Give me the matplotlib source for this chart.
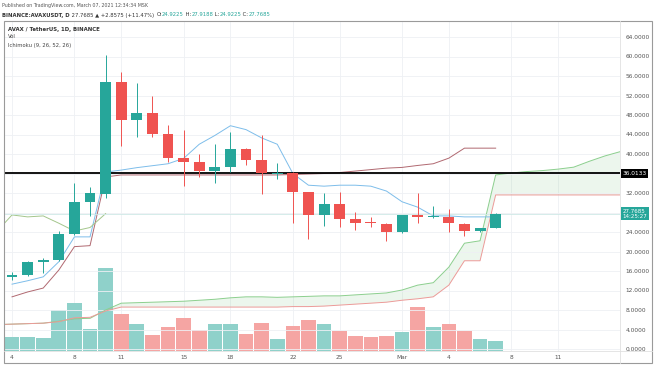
import matplotlib
matplotlib.use('Agg')
import matplotlib.pyplot as plt
import numpy as np
from matplotlib.patches import Rectangle

# daily candles, Feb 4 .. Mar 7 2021 (index 0 = Feb 4)
opens = [14.8, 15.2, 17.8, 18.3, 23.6, 30.2, 31.8, 54.8, 47.0, 48.4, 44.1, 39.2,
         38.4, 36.5, 37.3, 41.0, 38.8, 35.8, 36.1, 32.2, 27.5, 29.7, 26.7, 26.1,
         25.6, 24.0, 27.5, 27.1, 27.1, 25.6, 24.2, 24.9225]
highs = [15.8, 18.0, 18.6, 24.2, 34.0, 33.2, 60.3, 56.8, 54.6, 51.9, 45.9, 44.9,
         40.0, 42.0, 44.5, 41.2, 43.9, 38.2, 36.3, 32.2, 32.0, 32.2, 28.1, 27.1,
         25.8, 27.5, 32.0, 29.3, 28.7, 25.8, 24.9, 27.9188]
lows = [14.2, 15.0, 15.6, 18.0, 23.4, 27.3, 31.0, 41.6, 43.5, 43.5, 38.4, 33.4,
        35.3, 34.1, 36.3, 37.7, 31.8, 34.9, 25.8, 22.6, 25.2, 25.0, 24.4, 25.0,
        22.2, 23.8, 25.9, 26.9, 24.0, 23.2, 24.0, 24.9225]
closes = [15.2, 17.8, 18.3, 23.6, 30.2, 32.0, 54.8, 47.0, 48.4, 44.1, 39.2, 38.4,
          36.5, 37.3, 41.0, 38.8, 36.1, 36.1, 32.2, 27.5, 29.7, 26.7, 25.9, 25.8,
          24.0, 27.5, 27.1, 27.3, 25.8, 24.2, 24.9225, 27.7685]
volumes = [13.7, 13.7, 12.7, 41.0, 48.3, 22.3, 83.0, 36.7, 27.0, 15.7, 23.7, 33.3,
           21.0, 26.7, 26.7, 17.3, 28.3, 12.0, 25.3, 30.7, 27.0, 20.3, 15.3, 14.3,
           15.3, 19.0, 43.7, 23.7, 26.7, 20.0, 12.3, 9.7]

# ichimoku lines
tenkan = [13.3, 14.0, 14.8, 17.9, 23.0, 23.0, 36.3, 36.7, 37.2, 37.6, 38.0, 39.1,
          42.0, 43.8, 45.8, 45.0, 43.3, 42.0, 36.0, 33.6, 33.4, 33.6, 33.6, 33.4,
          32.4, 30.2, 29.1, 27.3, 27.3, 27.1, 27.1, 27.1]
kijun = [10.7, 11.7, 12.5, 16.2, 21.0, 21.2, 35.3, 35.7, 35.7, 35.7, 35.7, 35.7,
         35.7, 35.7, 35.7, 35.7, 35.7, 35.7, 35.8, 35.9, 36.0, 36.2, 36.5, 36.8,
         37.1, 37.25, 37.65, 38.0, 39.15, 41.2, 41.2, 41.2]
# leading spans, index -1 (Feb 3) .. 40 (Mar 16)
span_a = [5.0, 5.1, 5.2, 5.3, 5.7, 6.2, 6.3, 8.0, 9.4, 9.5, 9.6, 9.7, 9.8,
          10.0, 10.2, 10.5, 10.7, 10.7, 10.6, 10.7, 10.8, 10.9, 10.9, 11.1, 11.3,
          11.5, 12.1, 13.1, 13.6, 16.8, 21.7, 22.2, 35.7, 36.1, 36.4, 36.6, 36.9,
          37.3, 38.5, 39.6, 40.5, 41.0]
span_b = [5.0, 5.1, 5.2, 5.3, 5.6, 6.4, 6.5, 7.8, 8.6, 8.6, 8.6, 8.6, 8.6,
          8.6, 8.6, 8.6, 8.6, 8.6, 8.6, 8.7, 8.7, 8.8, 9.0, 9.2, 9.4,
          9.6, 10.0, 10.3, 10.7, 13.1, 18.1, 18.1, 31.6, 31.6, 31.6, 31.6, 31.6,
          31.6, 31.6, 31.6, 31.6, 31.6]

tick_pos = [0, 4, 7, 11, 14, 18, 21, 25, 28, 32, 35]
tick_labels = ['4', '8', '11', '15', '18', '22', '25', 'Mar', '4', '8', '11']
price_ticks = np.arange(0, 65, 4)
level = 36.0133

UP = '#26a69a'
DOWN = '#ef5350'
GRID = '#eef0f4'

W, H = 654, 366
fig = plt.figure(figsize=(W / 100, H / 100), dpi=100)
fig.patch.set_facecolor('white')

left, right, top, bottom = 5, 620, 22, 351
rect = [left / W, 1 - bottom / H, (right - left) / W, (bottom - top) / H]
xlim = (-0.45, 38.97)

# volume in the back
axv = fig.add_axes(rect)
n = len(closes)
x = np.arange(n)
up = np.array(closes) >= np.array(opens)
vcol = np.where(up, '#8fd1ca', '#f5a5a3')
axv.bar(x, volumes, width=0.94, color=vcol, linewidth=0)
axv.set_xlim(*xlim)
axv.set_ylim(0, bottom - top)
axv.set_xticks(tick_pos)
axv.grid(axis='x', color=GRID, linewidth=0.6)
axv.set_axisbelow(True)
axv.tick_params(length=0, labelbottom=False, labelleft=False)
for s in axv.spines.values():
    s.set_visible(False)

# price axes on top
ax = fig.add_axes(rect)
ax.patch.set_alpha(0)
ax.set_xlim(*xlim)
ax.set_ylim((349 - bottom) / 4.875, (349 - top) / 4.875)
ax.set_yticks(price_ticks)
# 36 and 28 are covered by the price tags
ax.set_yticklabels(['' if v in (28, 36) else '%.4f' % v for v in price_ticks])
ax.yaxis.tick_right()
ax.set_xticks(tick_pos)
ax.set_xticklabels(tick_labels)
ax.tick_params(length=0, labelsize=4.2, colors='#555555')
ax.tick_params(axis='y', pad=4)
ax.tick_params(axis='x', pad=3)
ax.grid(axis='y', color=GRID, linewidth=0.6)
for s in ax.spines.values():
    s.set_visible(False)

# cloud
xs = np.arange(-1, len(span_a) - 1)
a = np.array(span_a)
b = np.array(span_b)
ax.fill_between(xs, a, b, where=a >= b, interpolate=True, color='#4caf50', alpha=0.1, linewidth=0)
ax.fill_between(xs, a, b, where=a < b, interpolate=True, color='#f44336', alpha=0.1, linewidth=0)
ax.plot(xs, a, color='#8ccf8e', linewidth=0.7)
ax.plot(xs, b, color='#ec9a98', linewidth=0.7)

ax.plot(x, kijun, color='#b06870', linewidth=0.7)
ax.plot(x, tenkan, color='#7dbdea', linewidth=0.7)
# lagging span: closes moved back 25 bars
ax.plot(np.arange(-1, n - 25), closes[24:], color='#a4c68c', linewidth=0.7)

# price lines
ax.axhline(closes[-1], color='#cfe9e6', linewidth=0.6)
ax.axhline(level, color='black', linewidth=1.3)

# candles
o = np.array(opens)
c = np.array(closes)
ccol = np.where(up, UP, DOWN)
ax.vlines(x, lows, highs, colors=ccol, linewidth=0.7, zorder=3)
body = np.maximum(np.abs(c - o), 0.25)
ax.bar(x, body, bottom=np.minimum(o, c), width=0.7, color=ccol, linewidth=0, zorder=4)

# right axis tags
ax.text(1.004, level, '%.4f' % level, transform=ax.get_yaxis_transform(),
        fontsize=4.2, color='white', va='center', ha='left',
        bbox=dict(boxstyle='square,pad=0.3', fc='black', ec='none'))
ax.text(1.004, closes[-1], '%.4f\n14:25:27' % closes[-1], transform=ax.get_yaxis_transform(),
        fontsize=4.0, color='white', va='center', ha='left', linespacing=1.0,
        bbox=dict(boxstyle='square,pad=0.3', fc=UP, ec='none'))

# frame
fig.patches.append(Rectangle((4 / W, 1 - 363 / H), 648 / W, 342 / H, transform=fig.transFigure,
                             fill=False, ec='#9a9a9a', lw=0.8))
fig.lines.append(plt.Line2D([right / W, right / W], [1 - 363 / H, 1 - 21 / H],
                            transform=fig.transFigure, color='#e0e0e0', lw=0.6))
fig.lines.append(plt.Line2D([4 / W, 652 / W], [1 - bottom / H, 1 - bottom / H],
                            transform=fig.transFigure, color='#e0e0e0', lw=0.6))

# header texts
fig.text(2 / W, 1 - 5 / H, 'Published on TradingView.com, March 07, 2021 12:34:34 MSK',
         fontsize=3.4, color='#555555', va='center')
t1 = fig.text(2 / W, 1 - 15 / H, 'BINANCE:AVAXUSDT, D', fontsize=3.8, weight='bold',
              color='#333333', va='center')
prev = plt.annotate(' 27.7685 \u25b2 +2.8575 (+11.47%)', xy=(1, 0.5), xycoords=t1,
                    va='center', fontsize=3.8, color='#333333')
parts = [('O:', '#333333'), ('24.9225', UP), (' H:', '#333333'), ('27.9188', UP),
         (' L:', '#333333'), ('24.9225', UP), (' C:', '#333333'), ('27.7685', UP)]
for s, col in parts:
    prev = plt.annotate(s, xy=(1, 0.5), xycoords=prev, va='center', fontsize=3.8, color=col,
                        xytext=(2 if s == 'O:' else 0, 0), textcoords='offset points')

fig.text(8 / W, 1 - 29 / H, 'AVAX / TetherUS, 1D, BINANCE', fontsize=3.9, weight='bold',
         color='#333333', va='center')
fig.text(8 / W, 1 - 37 / H, 'Vol', fontsize=3.8, color='#444444', va='center')
fig.text(8 / W, 1 - 45 / H, 'Ichimoku (9, 26, 52, 26)', fontsize=3.8, color='#444444', va='center')

fig.savefig('out.png', dpi=100)
